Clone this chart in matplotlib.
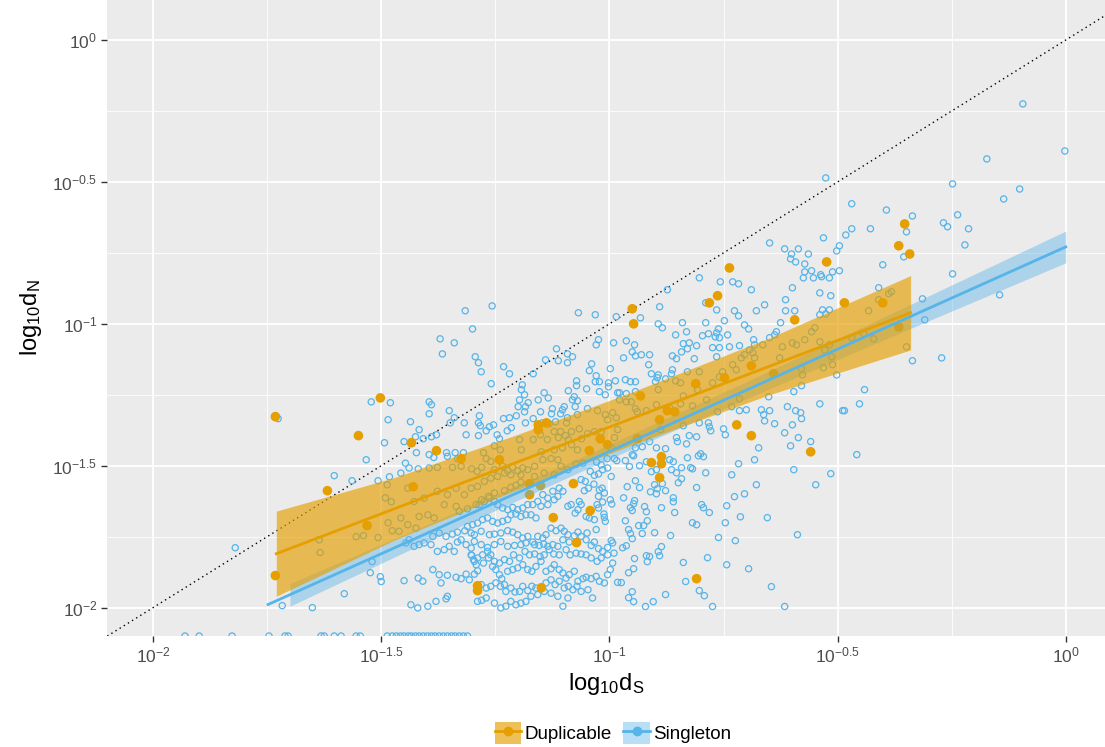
import numpy as np
import matplotlib
matplotlib.use("Agg")
import matplotlib.pyplot as plt
from matplotlib.patches import Patch
from matplotlib.lines import Line2D
from matplotlib.ticker import FixedLocator, FixedFormatter, NullFormatter

plt.rcParams['font.family'] = ['Liberation Sans', 'DejaVu Sans']
plt.rcParams['mathtext.fontset'] = 'custom'
plt.rcParams['mathtext.rm'] = 'Liberation Sans'
plt.rcParams['mathtext.it'] = 'Liberation Sans:italic'

# ---- data: (log10 dS, log10 dN) ----
singleton_points = [
    (-0.526, -0.486), (-0.649, -0.715), (-0.531, -0.697), (-0.616, -0.736), (-0.601, -0.754),
    (-0.586, -0.736), (-0.603, -0.771), (-0.592, -0.782), (-0.564, -0.754), (-0.572, -0.789),
    (-0.496, -0.725), (-0.502, -0.743), (-0.482, -0.687), (-0.572, -0.817), (-0.557, -0.813),
    (-0.511, -0.817), (-0.496, -0.813), (-0.537, -0.827),
    (-0.094, -0.225), (-0.002, -0.391), (-0.173, -0.419), (-0.248, -0.507), (-0.101, -0.525),
    (-0.136, -0.560), (-0.469, -0.577), (-0.393, -0.599), (-0.336, -0.620), (-0.237, -0.616),
    (-0.268, -0.644), (-0.259, -0.658), (-0.469, -0.665), (-0.428, -0.665), (-0.349, -0.676),
    (-0.213, -0.665), (-0.221, -0.722), (-0.355, -0.764), (-0.401, -0.792), (-0.248, -0.824),
    (-0.410, -0.873), (-0.382, -0.887), (-0.388, -0.894), (-0.410, -0.915), (-0.314, -0.912),
    (-0.145, -0.898), (-0.432, -0.954), (-0.309, -0.986), (-0.443, -1.035), (-0.469, -1.049),
    (-0.421, -1.053), (-0.349, -1.081), (-0.336, -1.130), (-0.272, -1.120), (-0.441, -1.232),
    (-0.452, -1.282), (-0.485, -1.306), (-0.458, -1.461),
    (-1.522, -1.275), (-1.480, -1.278), (-1.485, -1.338), (-1.493, -1.419), (-1.726, -1.334),
    (-1.533, -1.479), (-1.603, -1.535), (-1.564, -1.553), (-1.507, -1.553), (-1.482, -1.539),
    (-1.487, -1.567), (-1.491, -1.613), (-1.478, -1.627), (-1.485, -1.701), (-1.476, -1.729),
    (-1.820, -1.789), (-1.636, -1.761), (-1.634, -1.806), (-1.555, -1.750), (-1.539, -1.746),
    (-1.507, -1.753), (-1.520, -1.838), (-1.524, -1.877), (-1.502, -1.891), (-1.500, -1.908),
    (-1.581, -1.951), (-1.717, -1.993), (-1.651, -2.000),
    (-0.965, -1.482), (-0.947, -1.465), (-0.956, -1.503), (-0.934, -1.500), (-0.919, -1.486),
    (-0.868, -1.479), (-0.860, -1.486), (-0.829, -1.472), (-0.805, -1.465), (-0.794, -1.468),
    (-0.908, -1.521), (-0.897, -1.514), (-0.864, -1.514), (-0.853, -1.525), (-0.842, -1.507),
    (-0.822, -1.507), (-0.818, -1.511), (-0.789, -1.525), (-0.717, -1.493), (-0.682, -1.479),
    (-0.596, -1.514), (-0.515, -1.528), (-0.732, -1.532), (-0.548, -1.567), (-0.678, -1.567),
    (-0.943, -1.553), (-0.842, -1.546), (-0.849, -1.560), (-0.961, -1.574), (-0.934, -1.577),
    (-0.901, -1.567), (-0.884, -1.563), (-0.895, -1.581), (-0.910, -1.592), (-0.897, -1.599),
    (-0.877, -1.588), (-0.809, -1.577), (-0.969, -1.613), (-0.860, -1.613), (-0.860, -1.627),
    (-0.704, -1.599), (-0.726, -1.609), (-0.945, -1.623), (-0.947, -1.634), (-0.954, -1.648),
    (-0.950, -1.658), (-0.923, -1.644), (-0.919, -1.662), (-0.886, -1.648), (-0.857, -1.665),
    (-0.798, -1.637), (-0.794, -1.648), (-0.781, -1.665), (-0.743, -1.641), (-0.713, -1.680),
    (-0.654, -1.683), (-0.965, -1.694), (-0.917, -1.694), (-0.936, -1.711), (-0.925, -1.711),
    (-0.818, -1.701), (-0.809, -1.708), (-0.746, -1.701), (-0.958, -1.725), (-0.954, -1.739),
    (-0.928, -1.739), (-0.901, -1.736), (-0.866, -1.746), (-0.950, -1.757), (-0.761, -1.753),
    (-0.588, -1.743), (-0.724, -1.764), (-0.971, -1.789), (-0.963, -1.782), (-0.886, -1.785),
    (-0.893, -1.803), (-0.890, -1.817), (-0.919, -1.817), (-0.912, -1.820), (-0.917, -1.838),
    (-0.945, -1.827), (-0.785, -1.824), (-0.838, -1.841), (-0.743, -1.849), (-0.695, -1.863),
    (-0.958, -1.877), (-0.947, -1.863), (-0.974, -1.912), (-0.833, -1.908), (-0.809, -1.898),
    (-0.645, -1.926), (-0.950, -1.944), (-0.958, -1.965), (-0.947, -1.979), (-0.904, -1.979),
    (-0.877, -1.954), (-0.803, -1.940), (-0.792, -1.958), (-0.921, -1.996), (-0.774, -1.996),
    (-0.616, -1.996),
    (-1.316, -0.954), (-1.257, -0.937), (-1.300, -1.018), (-1.371, -1.053), (-1.340, -1.067),
    (-1.366, -1.106), (-1.294, -1.116), (-1.287, -1.137), (-1.281, -1.169), (-1.232, -1.151),
    (-1.219, -1.176), (-1.259, -1.211), (-1.167, -1.176), (-1.116, -1.088), (-1.140, -1.127),
    (-1.112, -1.130), (-1.092, -1.106), (-1.081, -1.116), (-1.092, -1.137), (-1.068, -0.961),
    (-1.031, -0.968), (-0.985, -0.975), (-1.024, -1.056), (-1.029, -1.074), (-0.991, -1.067),
    (-1.039, -1.141), (-1.044, -1.165), (-0.998, -1.158), (-1.029, -1.183), (-1.031, -1.204),
    (-1.022, -1.204), (-1.002, -1.208), (-0.987, -1.201), (-1.002, -1.222), (-1.072, -1.201),
    (-1.072, -1.218), (-1.050, -1.229), (-1.022, -1.239), (-1.009, -1.250), (-0.982, -1.243),
    (-1.191, -1.215), (-1.193, -1.232), (-1.186, -1.250), (-1.197, -1.268), (-1.178, -1.278),
    (-1.200, -1.292), (-1.184, -1.292), (-1.186, -1.310), (-1.204, -1.324), (-1.184, -1.349),
    (-1.156, -1.268), (-1.143, -1.243), (-1.134, -1.261), (-1.090, -1.236), (-1.077, -1.257),
    (-1.081, -1.268), (-1.070, -1.271), (-1.075, -1.292), (-1.048, -1.299), (-1.026, -1.306),
    (-1.099, -1.292), (-1.103, -1.303), (-1.125, -1.299), (-1.107, -1.317), (-1.151, -1.310),
    (-1.127, -1.317), (-1.118, -1.345), (-1.132, -1.352), (-1.092, -1.331), (-1.070, -1.320),
    (-1.094, -1.349), (-1.167, -1.334), (-1.147, -1.349), (-1.395, -1.275), (-1.390, -1.285),
    (-1.395, -1.317), (-1.351, -1.306), (-1.340, -1.331), (-1.349, -1.349), (-1.318, -1.349),
    (-1.285, -1.324), (-1.287, -1.349), (-1.283, -1.359), (-1.232, -1.334), (-1.219, -1.331),
    (-1.215, -1.366), (-1.224, -1.377), (-1.263, -1.363), (-1.254, -1.356), (-1.270, -1.377),
    (-1.287, -1.394), (-1.246, -1.391), (-1.241, -1.405), (-1.252, -1.430), (-1.314, -1.391),
    (-1.436, -1.345), (-1.417, -1.373), (-1.425, -1.398), (-1.408, -1.405), (-1.390, -1.398),
    (-1.379, -1.391), (-1.450, -1.415), (-1.423, -1.454), (-1.395, -1.461), (-1.357, -1.454),
    (-1.338, -1.454), (-1.320, -1.454), (-1.276, -1.454), (-1.197, -1.408),
    (-1.167, -1.408), (-1.151, -1.391), (-1.136, -1.408), (-1.121, -1.380), (-1.107, -1.380),
    (-1.112, -1.401), (-1.096, -1.394), (-1.090, -1.408), (-1.083, -1.380), (-1.066, -1.370),
    (-1.061, -1.405), (-1.048, -1.387), (-1.033, -1.380), (-1.018, -1.380), (-1.009, -1.320),
    (-1.004, -1.338), (-0.993, -1.313), (-0.985, -1.331), (-0.989, -1.401), (-0.982, -1.373),
    (-1.239, -1.444), (-1.193, -1.444), (-1.149, -1.451), (-1.121, -1.444), (-1.103, -1.437),
    (-1.083, -1.426), (-1.070, -1.444), (-0.996, -1.437),
    (-0.803, -0.838), (-0.757, -0.852), (-0.730, -0.852), (-0.717, -0.859), (-0.689, -0.880),
    (-0.599, -0.873), (-0.575, -0.838), (-0.553, -0.838), (-0.535, -0.834), (-0.518, -0.838),
    (-0.539, -0.891), (-0.515, -0.901), (-0.614, -0.915), (-0.789, -0.926), (-0.660, -0.933),
    (-0.890, -0.940), (-0.765, -0.951), (-0.726, -0.954), (-0.717, -0.972), (-0.678, -0.954),
    (-0.614, -0.954), (-0.594, -0.954), (-0.533, -0.951), (-0.518, -0.951), (-0.539, -0.968),
    (-0.526, -0.965), (-0.873, -0.880), (-0.932, -0.979), (-0.893, -1.000), (-0.884, -1.014),
    (-0.840, -0.996), (-0.789, -0.996), (-0.748, -0.989), (-0.704, -1.004), (-0.695, -1.018),
    (-0.625, -0.996), (-0.963, -1.060), (-0.945, -1.074), (-0.950, -1.099), (-0.943, -1.113),
    (-0.930, -1.109), (-0.912, -1.109), (-0.969, -1.120), (-0.855, -1.039), (-0.831, -1.028),
    (-0.796, -1.042), (-0.783, -1.035), (-0.765, -1.032), (-0.761, -1.018), (-0.768, -1.046),
    (-0.759, -1.049), (-0.741, -1.039), (-0.838, -1.070), (-0.825, -1.067), (-0.829, -1.088),
    (-0.842, -1.099), (-0.809, -1.077), (-0.774, -1.084), (-0.759, -1.084), (-0.765, -1.116),
    (-0.737, -1.081), (-0.715, -1.077), (-0.684, -1.056), (-0.682, -1.074), (-0.638, -1.039),
    (-0.634, -1.028), (-0.862, -1.113), (-0.853, -1.123), (-0.814, -1.123), (-0.914, -1.144),
    (-0.829, -1.169), (-0.803, -1.169), (-0.862, -1.162), (-0.864, -1.176), (-0.908, -1.176),
    (-0.893, -1.180), (-0.895, -1.190), (-0.877, -1.194), (-0.855, -1.201), (-0.844, -1.208),
    (-0.899, -1.204), (-0.965, -1.197), (-0.954, -1.204), (-0.943, -1.204), (-0.893, -1.232),
    (-0.943, -1.239), (-0.963, -1.246), (-0.978, -1.243), (-0.502, -1.180), (-0.596, -1.239),
    (-0.579, -1.218), (-0.651, -1.257), (-0.715, -1.264), (-0.539, -1.282), (-0.610, -1.292),
    (-0.732, -1.292), (-0.715, -1.306), (-0.700, -1.303), (-0.763, -1.310), (-0.667, -1.303),
    (-0.649, -1.306), (-0.662, -1.320), (-0.660, -1.342), (-0.638, -1.352), (-0.592, -1.306),
    (-0.581, -1.313), (-0.579, -1.334), (-0.599, -1.356), (-0.616, -1.384), (-0.586, -1.401),
    (-0.559, -1.415), (-0.603, -1.430), (-0.489, -1.306), (-0.673, -1.437), (-0.803, -1.349),
    (-0.783, -1.349), (-0.781, -1.363), (-0.778, -1.377), (-0.750, -1.370), (-0.746, -1.391),
    (-0.838, -1.359), (-0.825, -1.394), (-0.809, -1.398), (-0.853, -1.401), (-0.851, -1.415),
    (-0.831, -1.423), (-0.877, -1.440), (-0.897, -1.437), (-0.912, -1.415), (-0.928, -1.433),
    (-0.943, -1.437), (-0.800, -1.458), (-0.950, -1.461), (-0.888, -1.373),
    (-0.978, -1.268), (-0.963, -1.275), (-0.952, -1.275), (-0.943, -1.299), (-0.939, -1.310),
    (-0.919, -1.306), (-0.897, -1.285), (-0.868, -1.296), (-0.844, -1.282), (-0.838, -1.254),
    (-0.818, -1.289), (-0.807, -1.232), (-0.787, -1.268), (-0.774, -1.208), (-0.759, -1.187),
    (-0.752, -1.169), (-0.730, -1.144), (-0.722, -1.162), (-0.711, -1.120), (-0.704, -1.109),
    (-0.693, -1.092), (-0.686, -1.102), (-0.682, -1.120), (-0.664, -1.074), (-0.649, -1.049),
    (-0.627, -1.120), (-0.621, -1.081), (-0.599, -1.067), (-0.590, -1.074), (-0.572, -1.056),
    (-0.557, -1.028), (-0.550, -1.014), (-0.539, -1.063), (-0.528, -1.092), (-0.518, -1.074),
    (-0.513, -1.116), (-0.511, -1.144), (-0.531, -1.155), (-0.579, -1.158), (-0.577, -1.180),
    # dense block under the singleton fit, dS 10^-1.47 .. 10^-0.98
    (-1.447, -1.491), (-1.439, -1.508), (-1.419, -1.511), (-1.395, -1.508), (-1.377, -1.506),
    (-1.385, -1.471), (-1.355, -1.467), (-1.344, -1.506), (-1.333, -1.475), (-1.325, -1.502),
    (-1.302, -1.511), (-1.290, -1.520), (-1.280, -1.506), (-1.270, -1.475), (-1.260, -1.485),
    (-1.252, -1.514), (-1.234, -1.502), (-1.223, -1.518), (-1.212, -1.506), (-1.201, -1.518),
    (-1.190, -1.508), (-1.179, -1.514), (-1.164, -1.502), (-1.146, -1.479), (-1.128, -1.475),
    (-1.113, -1.479), (-1.106, -1.502), (-1.091, -1.514), (-1.073, -1.494), (-1.058, -1.491),
    (-1.457, -1.526), (-1.428, -1.626), (-1.417, -1.679), (-1.398, -1.673), (-1.384, -1.684),
    (-1.362, -1.637), (-1.336, -1.643), (-1.329, -1.661), (-1.311, -1.652), (-1.292, -1.637),
    (-1.280, -1.620), (-1.265, -1.608), (-1.252, -1.596), (-1.230, -1.588), (-1.216, -1.576),
    (-1.205, -1.569), (-1.194, -1.558), (-1.377, -1.590), (-1.355, -1.602), (-1.336, -1.579),
    (-1.318, -1.602), (-1.303, -1.579), (-1.289, -1.573), (-1.274, -1.555), (-1.260, -1.544),
    (-1.245, -1.538), (-1.230, -1.526), (-1.216, -1.532), (-1.194, -1.532), (-1.164, -1.538),
    (-1.143, -1.526), (-1.121, -1.532), (-1.442, -1.579), (-1.406, -1.614), (-1.457, -1.684),
    (-1.442, -1.708), (-1.461, -1.731), (-1.424, -1.720),
    (-1.028, -1.487), (-1.018, -1.497), (-1.005, -1.475), (-0.989, -1.475), (-0.984, -1.482),
    (-1.015, -1.514), (-1.004, -1.508), (-1.024, -1.529), (-0.996, -1.538), (-1.033, -1.534),
    (-1.042, -1.520), (-1.053, -1.555), (-1.062, -1.549), (-1.046, -1.579), (-1.055, -1.588),
    (-1.034, -1.565), (-1.022, -1.585), (-1.016, -1.579), (-1.011, -1.596), (-1.024, -1.608),
    (-0.998, -1.620), (-0.995, -1.635), (-1.015, -1.628), (-1.027, -1.637), (-1.024, -1.649),
    (-1.066, -1.626), (-1.062, -1.637), (-1.069, -1.655), (-1.075, -1.667), (-1.091, -1.643),
    (-1.084, -1.637), (-1.044, -1.684), (-1.051, -1.679), (-1.033, -1.690), (-1.012, -1.670),
    (-1.011, -1.682), (-1.009, -1.696), (-1.029, -1.725), (-1.049, -1.737), (-1.069, -1.734),
    (-1.091, -1.743), (-1.099, -1.731), (-1.106, -1.720), (-1.117, -1.729), (-1.128, -1.720),
    (-1.139, -1.743), (-1.146, -1.755), (-1.157, -1.749), (-1.168, -1.769), (-1.164, -1.778),
    (-1.154, -1.781), (-1.144, -1.776), (-1.135, -1.784), (-1.124, -1.778), (-1.113, -1.784),
    (-1.102, -1.761), (-1.088, -1.769), (-1.077, -1.747), (-1.062, -1.749), (-1.051, -1.761),
    (-1.040, -1.781), (-1.033, -1.769), (-1.024, -1.792), (-1.015, -1.802), (-1.004, -1.788),
    (-0.993, -1.772), (-0.996, -1.764), (-0.990, -1.808), (-1.004, -1.814), (-1.018, -1.825),
    (-1.027, -1.837), (-1.040, -1.825), (-1.051, -1.814), (-1.062, -1.811), (-1.073, -1.808),
    (-1.086, -1.814), (-1.095, -1.796), (-1.110, -1.814), (-1.122, -1.811), (-1.132, -1.796),
    (-1.143, -1.814), (-1.152, -1.820), (-1.164, -1.811), (-1.175, -1.814), (-1.185, -1.802),
    (-1.197, -1.825), (-1.210, -1.814), (-1.219, -1.837), (-1.230, -1.831), (-1.241, -1.843),
    (-1.252, -1.837), (-1.260, -1.814), (-1.267, -1.802), (-1.278, -1.814), (-1.289, -1.825),
    (-1.296, -1.837), (-1.303, -1.814), (-1.292, -1.849),
    (-1.124, -1.590), (-1.110, -1.579), (-1.102, -1.590), (-1.113, -1.608), (-1.121, -1.620),
    (-1.135, -1.614), (-1.146, -1.602), (-1.157, -1.626), (-1.168, -1.637), (-1.150, -1.643),
    (-1.135, -1.637), (-1.179, -1.637), (-1.190, -1.649), (-1.201, -1.655), (-1.212, -1.647),
    (-1.223, -1.655), (-1.234, -1.649), (-1.245, -1.637), (-1.252, -1.626), (-1.263, -1.614),
    (-1.274, -1.626), (-1.285, -1.637), (-1.216, -1.673), (-1.205, -1.670), (-1.194, -1.679),
    (-1.183, -1.673), (-1.172, -1.673), (-1.161, -1.684), (-1.223, -1.690), (-1.234, -1.696),
    (-1.245, -1.702), (-1.256, -1.696), (-1.267, -1.684), (-1.278, -1.690), (-1.289, -1.702),
    (-1.300, -1.708), (-1.311, -1.714), (-1.317, -1.729), (-1.303, -1.737), (-1.296, -1.743),
    (-1.281, -1.731), (-1.263, -1.743), (-1.252, -1.741), (-1.238, -1.737), (-1.223, -1.729),
    (-1.212, -1.734), (-1.201, -1.743), (-1.190, -1.755), (-1.179, -1.749), (-1.252, -1.778),
    (-1.238, -1.767), (-1.223, -1.784), (-1.208, -1.781), (-1.194, -1.778), (-1.183, -1.772),
    (-1.296, -1.767), (-1.281, -1.778), (-1.267, -1.788), (-1.303, -1.790), (-1.314, -1.778),
    (-1.325, -1.761), (-1.333, -1.769), (-1.340, -1.802), (-1.351, -1.784), (-1.362, -1.796),
    (-1.377, -1.802), (-1.391, -1.778), (-1.406, -1.772), (-1.417, -1.778), (-1.428, -1.784),
    (-1.439, -1.761), (-1.446, -1.772), (-1.387, -1.749), (-1.373, -1.737), (-1.358, -1.749),
    (-1.344, -1.741), (-1.333, -1.734),
    (-1.450, -1.905), (-1.419, -1.896), (-1.409, -1.907), (-1.387, -1.866), (-1.373, -1.884),
    (-1.369, -1.913), (-1.355, -1.886), (-1.336, -1.893), (-1.325, -1.898), (-1.314, -1.882),
    (-1.307, -1.902), (-1.296, -1.882), (-1.302, -1.816), (-1.298, -1.831), (-1.289, -1.870),
    (-1.276, -1.843), (-1.265, -1.825), (-1.256, -1.855), (-1.249, -1.866), (-1.241, -1.884),
    (-1.236, -1.898), (-1.230, -1.919), (-1.223, -1.872), (-1.212, -1.866), (-1.201, -1.860),
    (-1.190, -1.849), (-1.179, -1.866), (-1.170, -1.872), (-1.161, -1.855), (-1.150, -1.837),
    (-1.139, -1.872), (-1.128, -1.863), (-1.121, -1.849), (-1.110, -1.866), (-1.102, -1.878),
    (-1.095, -1.896), (-1.088, -1.884), (-1.077, -1.872), (-1.069, -1.907), (-1.058, -1.898),
    (-1.051, -1.893), (-1.040, -1.898), (-1.029, -1.890), (-1.022, -1.907), (-1.011, -1.913),
    (-1.004, -1.884), (-0.993, -1.843), (-0.998, -1.866), (-0.982, -1.911), (-1.281, -1.919),
    (-1.270, -1.931), (-1.260, -1.925), (-1.249, -1.913), (-1.239, -1.925), (-1.227, -1.943),
    (-1.216, -1.931), (-1.207, -1.945), (-1.197, -1.943), (-1.190, -1.925), (-1.179, -1.940),
    (-1.170, -1.925), (-1.161, -1.931), (-1.139, -1.913), (-1.128, -1.902), (-1.119, -1.919),
    (-1.110, -1.907), (-1.099, -1.931), (-1.090, -1.925), (-1.080, -1.937), (-1.071, -1.925),
    (-1.062, -1.943), (-1.047, -1.937), (-1.037, -1.966), (-1.091, -1.966), (-1.102, -1.995),
    (-1.113, -1.960), (-1.128, -1.949), (-1.143, -1.943), (-1.157, -1.954), (-1.172, -1.960),
    (-1.183, -1.978), (-1.194, -1.984), (-1.205, -1.990), (-1.216, -1.978), (-1.227, -1.995),
    (-1.238, -2.001), (-1.252, -1.984), (-1.270, -1.966), (-1.280, -1.974), (-1.289, -1.978),
    (-1.355, -1.960), (-1.358, -1.969), (-1.380, -1.978), (-1.398, -1.995), (-1.420, -2.001),
    (-1.435, -1.990),
]

# dS of singleton genes whose dN sits on the lower floor of the axis
singleton_floor_ds = [
    -1.930, -1.899, -1.827, -1.746, -1.711, -1.704, -1.632, -1.625, -1.603, -1.588,
    -1.555, -1.546, -1.487, -1.476, -1.467, -1.458, -1.450, -1.441, -1.434, -1.425,
    -1.417, -1.408, -1.399, -1.390, -1.382, -1.373, -1.364, -1.355, -1.346, -1.338,
    -1.329, -1.320, -1.311,
]
floor_dn = -2.1

duplicable_points = [
    (-0.737, -0.803), (-0.524, -0.782), (-0.353, -0.648), (-0.366, -0.725), (-0.342, -0.754),
    (-0.485, -0.926), (-0.401, -0.926), (-0.366, -1.011), (-1.502, -1.261), (-1.732, -1.327),
    (-1.550, -1.394), (-1.618, -1.588), (-1.531, -1.711), (-1.732, -1.887), (-1.430, -1.574),
    (-1.325, -1.475), (-1.241, -1.479), (-1.175, -1.563), (-1.151, -1.570), (-1.175, -1.602),
    (-1.079, -1.563), (-1.042, -1.658), (-1.123, -1.683), (-1.072, -1.771), (-1.289, -1.923),
    (-1.289, -1.940), (-1.149, -1.930), (-0.908, -1.489), (-0.886, -1.468), (-0.886, -1.493),
    (-0.890, -1.542), (-0.809, -1.898), (-0.559, -1.451), (-1.434, -1.419), (-1.379, -1.447),
    (-1.156, -1.356), (-1.156, -1.373), (-1.138, -1.349), (-1.020, -1.405), (-1.004, -1.426),
    (-1.044, -1.447), (-0.950, -0.947), (-0.947, -1.000), (-0.781, -0.926), (-0.763, -0.901),
    (-0.594, -0.986), (-0.932, -1.254), (-0.811, -1.211), (-0.748, -1.190), (-0.689, -1.148),
    (-0.640, -1.176), (-0.890, -1.338), (-0.873, -1.306), (-0.857, -1.310), (-0.721, -1.356),
    (-0.689, -1.394), (-0.939, -1.405),
]

# fitted regression lines and 95% bands (log10 scale)
dup_fit_x = [-1.73, -1.47, -1.20, -0.95, -0.65, -0.34]
dup_fit_mid = [-1.810, -1.651, -1.486, -1.333, -1.150, -0.961]
dup_fit_lo = [-1.960, -1.761, -1.583, -1.426, -1.250, -1.092]
dup_fit_hi = [-1.660, -1.541, -1.389, -1.240, -1.050, -0.830]

sing_line_x = [-1.748, 0.0]
sing_line_y = [-1.989, -0.729]
sing_band_x = [-1.70, -1.40, -1.05, -0.70, -0.35, 0.00]
sing_band_lo = [-1.995, -1.768, -1.511, -1.264, -1.023, -0.785]
sing_band_hi = [-1.915, -1.708, -1.461, -1.204, -0.939, -0.673]

major_ticks = [-2.0, -1.5, -1.0, -0.5, 0.0]
minor_ticks = [-1.75, -1.25, -0.75, -0.25]
tick_labels = [r'$\mathregular{10^{-2}}$', r'$\mathregular{10^{-1.5}}$', r'$\mathregular{10^{-1}}$',
               r'$\mathregular{10^{-0.5}}$', r'$\mathregular{10^{0}}$']

ORANGE = '#E69F00'
BLUE = '#56B4E9'

# ---- figure ----
W, H = 1105, 747
fig = plt.figure(figsize=(W / 100, H / 100), dpi=100)
ax = fig.add_axes([107 / W, 111 / H, 998 / W, 636 / H])
ax.set_facecolor('#EBEBEB')
for s in ax.spines.values():
    s.set_visible(False)
ax.set_xscale('log')
ax.set_yscale('log')
ax.set_xlim(10 ** -2.101, 10 ** 0.086)
ax.set_ylim(10 ** -2.1, 10 ** 0.141)

ax.xaxis.set_major_locator(FixedLocator([10 ** v for v in major_ticks]))
ax.xaxis.set_major_formatter(FixedFormatter(tick_labels))
ax.yaxis.set_major_locator(FixedLocator([10 ** v for v in major_ticks]))
ax.yaxis.set_major_formatter(FixedFormatter(tick_labels))
ax.xaxis.set_minor_locator(FixedLocator([10 ** v for v in minor_ticks]))
ax.yaxis.set_minor_locator(FixedLocator([10 ** v for v in minor_ticks]))
ax.xaxis.set_minor_formatter(NullFormatter())
ax.yaxis.set_minor_formatter(NullFormatter())
ax.grid(True, which='major', color='white', linewidth=1.3)
ax.grid(True, which='minor', color='white', linewidth=0.6)
ax.set_axisbelow(True)
ax.tick_params(which='major', length=4, width=1, color='#333333', labelcolor='#4D4D4D',
               labelsize=12.5, pad=3)
ax.tick_params(which='minor', length=0)

# identity line
lim = np.array([-2.2, 0.2])
ax.plot(10 ** lim, 10 ** lim, linestyle=(0, (1, 2.5)), color='black', linewidth=1.0, zorder=2)

sp = np.array(singleton_points)
ax.scatter(10 ** sp[:, 0], 10 ** sp[:, 1], s=20, facecolors='none', edgecolors=BLUE,
           linewidths=0.9, zorder=3)
fd = np.array(singleton_floor_ds)
ax.scatter(10 ** fd, np.full(fd.shape, 10 ** floor_dn), s=20, facecolors='none',
           edgecolors=BLUE, linewidths=0.9, zorder=3)

dp = np.array(duplicable_points)
ax.scatter(10 ** dp[:, 0], 10 ** dp[:, 1], s=48, color=ORANGE, edgecolors='none', zorder=4)

# regression bands and lines
ax.fill_between(10 ** np.array(sing_band_x), 10 ** np.array(sing_band_lo), 10 ** np.array(sing_band_hi),
                color=BLUE, alpha=0.42, linewidth=0, zorder=5)
ax.plot(10 ** np.array(sing_line_x), 10 ** np.array(sing_line_y), color=BLUE, linewidth=2.0, zorder=6)
ax.fill_between(10 ** np.array(dup_fit_x), 10 ** np.array(dup_fit_lo), 10 ** np.array(dup_fit_hi),
                color=ORANGE, alpha=0.65, linewidth=0, zorder=5)
ax.plot(10 ** np.array(dup_fit_x), 10 ** np.array(dup_fit_mid), color=ORANGE, linewidth=2.0, zorder=6)

ax.set_xlabel(r'$\mathregular{log_{10}d_S}$', fontsize=17, color='black', labelpad=4)
ax.set_ylabel(r'$\mathregular{log_{10}d_N}$', fontsize=17, color='black', labelpad=6)

handles = [
    (Patch(facecolor=ORANGE, alpha=0.65, edgecolor='none'),
     Line2D([], [], color=ORANGE, linewidth=2, marker='o', markersize=6)),
    (Patch(facecolor=BLUE, alpha=0.42, edgecolor='none'),
     Line2D([], [], color=BLUE, linewidth=2, marker='o', markersize=6)),
]
fig.legend(handles, ['Duplicable', 'Singleton'], loc='center', bbox_to_anchor=(0.555, 0.019),
           ncol=2, frameon=False, fontsize=13.5, handlelength=1.4, handleheight=1.4,
           handletextpad=0.2, columnspacing=0.6, borderpad=0)

fig.savefig('out.png', dpi=100)
